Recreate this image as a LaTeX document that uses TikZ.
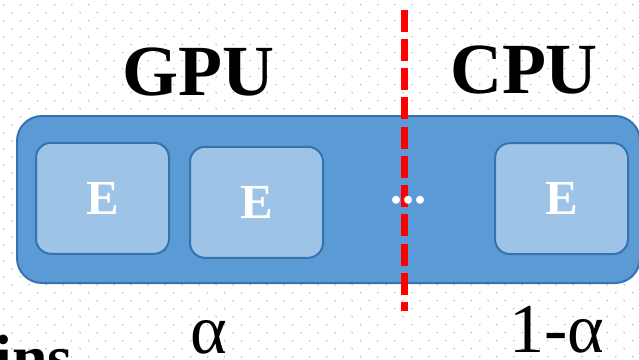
\documentclass[tikz,border=0pt]{standalone}
\usepackage{fontspec}
\setmainfont{Liberation Serif}
\definecolor{barblue}{HTML}{5B9BD5}
\definecolor{edgeblue}{HTML}{3672AE}
\definecolor{lightblue}{HTML}{9DC3E6}
\definecolor{griddot}{HTML}{C6C6C6}
\usetikzlibrary{positioning}

\begin{document}
\begin{tikzpicture}[
    x=1pt, y=-1pt,
    bar/.style={rectangle, rounded corners=25pt, draw=edgeblue, line width=2pt, fill=barblue, inner sep=0pt},
    ebox/.style={rectangle, rounded corners=15pt, draw=edgeblue, line width=2pt, fill=lightblue,
                 text=white, inner sep=0pt, minimum width=133pt, minimum height=111pt,
                 font=\fontsize{49}{50}\selectfont\bfseries},
    head/.style={anchor=base, inner sep=0pt, font=\fontsize{72}{80}\selectfont\bfseries},
    share/.style={anchor=base, inner sep=0pt, text depth=0pt, font=\fontsize{70}{74}\selectfont},
    cut/.style={draw=red, line width=7pt, dash pattern=on 22pt off 7.25pt}
  ]
    \useasboundingbox (0,0) rectangle (639,359);
    \clip (0,0) rectangle (639,359);

    % dotted slide background
    \foreach \i in {0,...,37}
      \foreach \j in {0,...,22} {
        \fill[griddot] (3.7+17*\i, 4.7+16*\j) circle (1pt);
        \fill[griddot] (12.2+17*\i, 12.7+16*\j) circle (1pt);
      }

    \node[bar, minimum width=623pt, minimum height=167pt] (bar) at (328.5,199.5) {};

    \node[ebox] (e1) at (102.5,198.3) {E};
    \node[ebox, right=19pt of e1, yshift=-4pt] (e2) {E};
    \node[ebox] (e3) at (561.5,198.6) {E};

    \coordinate (cuttop) at (404,9.5);
    \coordinate (cutbot) at (404,311);
    \draw[cut] (cuttop) -- (cutbot);

    \node[anchor=base, inner sep=0pt, text=white, font=\fontsize{48}{50}\selectfont\bfseries] (dots) at (408,203) {...};

    \node[head] (gpu) at (198,95) {GPU};
    \node[head] (cpu) at (524,93) {CPU};

    \node[share] (alpha) at (209,353) {α};
    \node[share] (rest)  at (557,352) {1-α};

    \node[head, anchor=base east, font=\fontsize{64}{70}\selectfont\bfseries] (ins) at (73,379) {ins};
  \end{tikzpicture}
\end{document}
